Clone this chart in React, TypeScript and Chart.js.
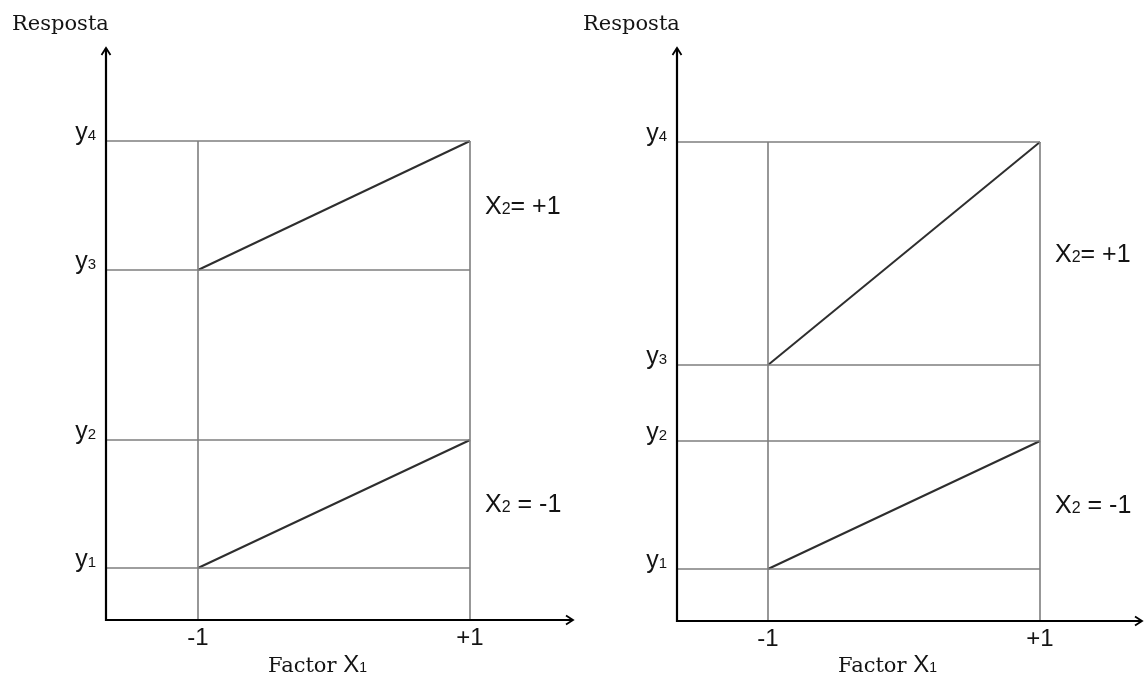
import React, { useEffect, useRef } from 'react';
import { Chart, registerables } from 'chart.js';

Chart.register(...registerables);

// ---- data ----
const xLevels = [-1, 1];
const xTickLabels = ['-1', '+1'];
const yLevelSubs = ['1', '2', '3', '4'];
const leftLow = [5.2, 18.0];   // y1, y2 (X2 = -1)
const leftHigh = [35.0, 47.9]; // y3, y4 (X2 = +1)
const rightLow = [5.2, 18.0];
const rightHigh = [25.6, 47.9];
const highLabel = { main: 'X', sub: '2', rest: '= +1' };
const lowLabel = { main: 'X', sub: '2', rest: ' = -1' };
const yAxisTitle = 'Resposta';
const xAxisTitle = { main: 'Factor ', x: 'X', sub: '1' };

const W = 1144;
const H = 677;
const SANS = "'Liberation Sans', Arial, sans-serif";
const SERIF = "'DejaVu Serif', serif";
const TEXT = '#141414';

type Panel = {
  axisX: number; bottom: number; top: number; right: number;
  xm1: number; xp1: number; low: number[]; high: number[];
};

const panels: Panel[] = [
  { axisX: 106, bottom: 620, top: 48, right: 573, xm1: 198, xp1: 470, low: leftLow, high: leftHigh },
  { axisX: 677, bottom: 621, top: 48, right: 1142, xm1: 768, xp1: 1040, low: rightLow, high: rightHigh },
];

function drawParts(ctx: CanvasRenderingContext2D, x: number, y: number,
  parts: { t: string; f: string }[], align: 'left' | 'right' | 'center') {
  let total = 0;
  const ws = parts.map(p => { ctx.font = p.f; const w = ctx.measureText(p.t).width; total += w; return w; });
  let cx = align === 'left' ? x : align === 'right' ? x - total : x - total / 2;
  ctx.textAlign = 'left';
  ctx.textBaseline = 'alphabetic';
  parts.forEach((p, i) => { ctx.font = p.f; ctx.fillText(p.t, cx, y); cx += ws[i]; });
}

function makeChart(canvas: HTMLCanvasElement, p: Panel) {
  const unit = (p.xp1 - p.xm1) / 2;
  const xMin = -1 - (p.xm1 - p.axisX) / unit;
  const xMax = 1 + (p.right - p.xp1) / unit;
  const yMax = (p.bottom - p.top) / 10;
  const levels = [...p.low, ...p.high];
  const yTop = Math.max(...levels);

  const datasets: any[] = [];
  levels.forEach(v => datasets.push({
    data: [{ x: xMin, y: v }, { x: xLevels[1], y: v }],
    showLine: true, borderColor: '#7e7e7e', borderWidth: 1.6, pointRadius: 0,
  }));
  xLevels.forEach(xv => datasets.push({
    data: [{ x: xv, y: 0 }, { x: xv, y: yTop }],
    showLine: true, borderColor: '#7e7e7e', borderWidth: 1.6, pointRadius: 0,
  }));
  [p.low, p.high].forEach(s => datasets.push({
    data: xLevels.map((xv, i) => ({ x: xv, y: s[i] })),
    showLine: true, borderColor: '#2e2e2e', borderWidth: 2, pointRadius: 0,
  }));

  const overlay = {
    id: 'overlay',
    afterDraw(chart: any) {
      const ctx: CanvasRenderingContext2D = chart.ctx;
      const xs = chart.scales.x;
      const ys = chart.scales.y;
      const a = chart.chartArea;
      ctx.save();
      // axes
      ctx.strokeStyle = '#000';
      ctx.lineWidth = 2.2;
      ctx.beginPath();
      ctx.moveTo(a.left, a.top);
      ctx.lineTo(a.left, a.bottom);
      ctx.lineTo(a.right, a.bottom);
      ctx.stroke();
      ctx.lineWidth = 1.8;
      ctx.beginPath();
      ctx.moveTo(a.left - 4.5, a.top + 7);
      ctx.lineTo(a.left, a.top);
      ctx.lineTo(a.left + 4.5, a.top + 7);
      ctx.moveTo(a.right - 7, a.bottom - 4.5);
      ctx.lineTo(a.right, a.bottom);
      ctx.lineTo(a.right - 7, a.bottom + 4.5);
      ctx.stroke();

      ctx.fillStyle = TEXT;
      // y level labels
      levels.forEach((v, i) => {
        const py = ys.getPixelForValue(v);
        drawParts(ctx, a.left - 10, py - 1, [
          { t: 'y', f: `25px ${SANS}` },
          { t: yLevelSubs[i], f: `15px ${SANS}` },
        ], 'right');
      });
      // x tick labels
      xLevels.forEach((xv, i) => {
        const px = xs.getPixelForValue(xv);
        drawParts(ctx, px, a.bottom + 25, [{ t: xTickLabels[i], f: `24px ${SANS}` }], 'center');
      });
      // series labels
      const lx = xs.getPixelForValue(xLevels[1]) + 15;
      [[p.high, highLabel], [p.low, lowLabel]].forEach(([s, lab]: any) => {
        const mid = ys.getPixelForValue((s[0] + s[1]) / 2);
        drawParts(ctx, lx, mid + 8, [
          { t: lab.main, f: `25px ${SANS}` },
          { t: lab.sub, f: `16px ${SANS}` },
          { t: lab.rest, f: `25px ${SANS}` },
        ], 'left');
      });
      // axis titles
      drawParts(ctx, a.left - 94, 30, [{ t: yAxisTitle, f: `21px ${SERIF}` }], 'left');
      drawParts(ctx, xs.getPixelForValue(xLevels[0]) + 70, 672, [
        { t: xAxisTitle.main, f: `21px ${SERIF}` },
        { t: xAxisTitle.x, f: `24px ${SANS}` },
        { t: xAxisTitle.sub, f: `14px ${SANS}` },
      ], 'left');
      ctx.restore();
    },
  };

  return new Chart(canvas, {
    type: 'scatter',
    data: { datasets },
    options: {
      animation: false,
      responsive: false,
      maintainAspectRatio: false,
      layout: { padding: { left: p.axisX, top: p.top, right: W - p.right, bottom: H - p.bottom } },
      scales: {
        x: { type: 'linear', display: false, min: xMin, max: xMax },
        y: { type: 'linear', display: false, min: 0, max: yMax },
      },
      plugins: { legend: { display: false }, tooltip: { enabled: false } },
    },
    plugins: [overlay],
  } as any);
}

export default function App() {
  const r1 = useRef<HTMLCanvasElement>(null);
  const r2 = useRef<HTMLCanvasElement>(null);
  useEffect(() => {
    const charts = [r1, r2].map((r, i) => makeChart(r.current as HTMLCanvasElement, panels[i]));
    return () => charts.forEach(c => c.destroy());
  }, []);
  const cs: React.CSSProperties = { position: 'absolute', left: 0, top: 0, width: W, height: H, display: 'block' };
  return (
    <div style={{ position: 'fixed', left: 0, top: 0, width: W, height: H, background: '#fff' }}>
      <canvas ref={r1} width={W} height={H} style={cs} />
      <canvas ref={r2} width={W} height={H} style={cs} />
    </div>
  );
}
